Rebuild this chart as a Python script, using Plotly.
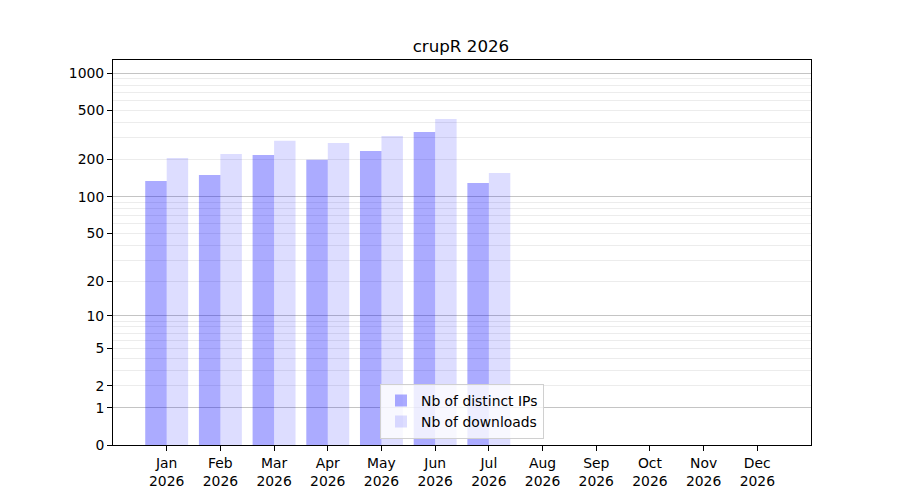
import numpy as np
import plotly.graph_objects as go

# Données
months = ['Jan', 'Feb', 'Mar', 'Apr', 'May', 'Jun', 'Jul', 'Aug', 'Sep', 'Oct', 'Nov', 'Dec']
year = 2026
ips = [134, 150, 218, 199, 235, 335, 129]
downloads = [206, 222, 284, 273, 311, 427, 156]

ytick_vals = [0, 1, 2, 5, 10, 20, 50, 100, 200, 500, 1000]
decades = [1, 10, 100, 1000]
minor_vals = [m * d for d in [1, 10, 100] for m in range(2, 10)]


def tr(v):
    # échelle log10(1 + y)
    return np.log10(1 + np.asarray(v, dtype=float))


x_pos = np.arange(1, len(ips) + 1)
font = 'DejaVu Sans'

fig = go.Figure()
fig.add_trace(go.Bar(x=x_pos, y=tr(ips), name='Nb of distinct IPs',
                     marker=dict(color='rgba(0,0,255,0.33)', line=dict(width=0)),
                     customdata=ips, hovertemplate='%{customdata}'))
fig.add_trace(go.Bar(x=x_pos, y=tr(downloads), name='Nb of downloads',
                     marker=dict(color='rgba(0,0,255,0.135)', line=dict(width=0)),
                     customdata=downloads, hovertemplate='%{customdata}'))
# trace vide pour activer l'axe y2 (grille principale)
fig.add_trace(go.Scatter(x=[None], y=[None], yaxis='y2', showlegend=False, hoverinfo='skip'))

yrange = [0, 3.107]
fig.update_layout(
    width=892, height=492,
    margin=dict(l=105, r=89, t=52, b=55),
    plot_bgcolor='white', paper_bgcolor='white',
    font=dict(family=font, size=13.9, color='black'),
    barmode='group', bargap=0.2, bargroupgap=0,
    title=dict(text='crupR 2026', x=0.5078, xanchor='center', y=1 - 38 / 492, yanchor='middle',
               yref='container', font=dict(size=16.7, color='black')),
    showlegend=True,
    legend=dict(x=0.5, xanchor='center', y=0.016, yanchor='bottom',
                bgcolor='rgba(255,255,255,0.8)', bordercolor='#d0d0d0', borderwidth=1,
                font=dict(size=13.9), tracegroupgap=0),
    xaxis=dict(range=[0, 13], tickvals=list(range(1, 13)),
               ticktext=[f'{m}<br>{year}' for m in months],
               showgrid=False, zeroline=False, showline=True, linecolor='black', linewidth=1,
               mirror=True, ticks='outside', ticklen=5, tickcolor='black', tickwidth=1),
    yaxis=dict(range=yrange, tickvals=list(tr(ytick_vals)), ticktext=[str(v) for v in ytick_vals],
               showgrid=False, zeroline=False, showline=True, linecolor='black', linewidth=1,
               mirror=True, ticks='outside', ticklen=5, tickcolor='black', tickwidth=1,
               minor=dict(tickvals=list(tr(minor_vals)), showgrid=True, gridcolor='#ececec',
                          gridwidth=1, ticks='')),
    yaxis2=dict(range=yrange, overlaying='y', anchor='x', side='left',
                tickvals=list(tr(decades)), showticklabels=False, ticks='',
                showgrid=True, gridcolor='#c4c4c4', gridwidth=1, zeroline=False, showline=False),
)

fig.write_html("out.html")
